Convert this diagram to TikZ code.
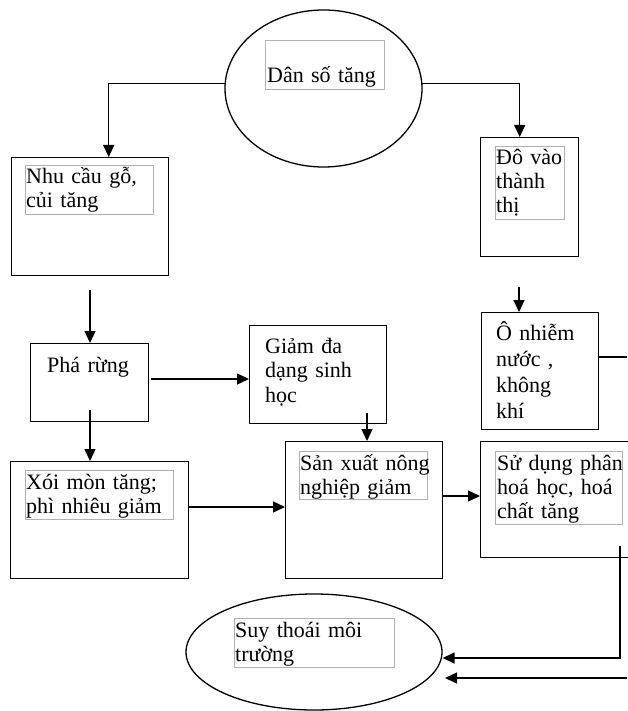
\documentclass[tikz,border=0pt]{standalone}
\usepackage{fontspec}
\setmainfont{Liberation Serif}
\usetikzlibrary{shapes,arrows.meta}

\begin{document}
\begin{tikzpicture}[x=1pt,y=-1pt]
				\tikzstyle{box}=[draw, line width=1.4pt, shape=rectangle, anchor=north west, inner sep=0pt];
				\tikzstyle{oval}=[draw, line width=1.3pt, shape=ellipse, inner sep=0pt];
				\tikzstyle{tbox}=[draw=gray!60, line width=1.3pt, shape=rectangle, anchor=north west, inner sep=0pt];
				\tikzstyle{txt}=[anchor=base west, inner sep=0pt, text width=160pt, align=left, font=\fontsize{22pt}{24pt}\selectfont];
				\tikzstyle{arr}=[line width=1.4pt, -{Triangle[length=12pt,width=11pt]}];
				\tikzstyle{ln}=[line width=1.4pt];
				\useasboundingbox (0,0) rectangle (627,711);
				\node [oval, minimum width=197pt, minimum height=157pt] (dan) at (323.5,88.5) {};
				\node [tbox, minimum width=119pt, minimum height=49pt] (gdan) at (265,40) {};
				\node [txt] (tdan) at (267,83) {Dân số tăng};
				\node [box, minimum width=157pt, minimum height=118pt] (nhu) at (11,157) {};
				\node [tbox, minimum width=128pt, minimum height=49pt] (gnhu) at (25,165) {};
				\node [txt] (tnhu) at (26,184) {Nhu cầu gỗ,\\củi tăng};
				\node [box, minimum width=98pt, minimum height=119pt] (do) at (480,137) {};
				\node [tbox, minimum width=69pt, minimum height=73pt] (gdo) at (495,146) {};
				\node [txt] (tdo) at (496,165) {Đô vào\\thành\\thị};
				\draw[arr] (dan.177) -| ([xshift=18.5pt]nhu.north);
				\draw[arr] (dan.3) -| ([xshift=-10pt]do.north);
				\node [box, minimum width=118pt, minimum height=78pt] (pha) at (30,343) {};
				\node [txt] (tpha) at (47,372) {Phá rừng};
				\node [box, minimum width=137pt, minimum height=98pt] (giam) at (249,325) {};
				\node [txt, font=\fontsize{22pt}{24.5pt}\selectfont] (tgiam) at (265,353) {Giảm đa\\dạng sinh\\học};
				\node [box, minimum width=117pt, minimum height=117pt] (onh) at (481,312) {};
				\node [txt, font=\fontsize{22pt}{26pt}\selectfont] (tonh) at (496,340) {Ô nhiễm\\nước ,\\không\\khí};
				\coordinate (c1) at (90,290);
				\coordinate (c2) at (90,410);
				\coordinate (c3) at (151,379);
				\coordinate (c7) at (519,287);
				\coordinate (c8) at (627,357);
				\draw[arr] (c1) -- (c1 |- pha.north);
				\draw[arr] (c3) -- (c3 -| giam.west);
				\draw[arr] (c7) -- (c7 |- onh.north);
				\draw[ln] (c8 -| onh.east) -- (c8);
				\node [box, minimum width=178pt, minimum height=117pt] (xoi) at (10,461) {};
				\node [tbox, minimum width=148pt, minimum height=49pt] (gxoi) at (25,470) {};
				\node [txt] (txoi) at (26,489) {Xói mòn tăng;\\phì nhiêu giảm};
				\node [box, minimum width=157pt, minimum height=137pt] (sx) at (285,441) {};
				\node [tbox, minimum width=128pt, minimum height=48pt] (gsx) at (299,451) {};
				\node [txt] (tsx) at (300,470) {Sản xuất nông\\nghiệp giảm};
				\node [box, minimum width=170pt, minimum height=116pt] (sd) at (480,441) {};
				\node [tbox, minimum width=127pt, minimum height=73pt] (gsd) at (495,451) {};
				\node [txt] (tsd) at (497,470) {Sử dụng phân\\hoá học, hoá\\chất tăng};
				\coordinate (c4) at (367,413);
				\coordinate (c5) at (188,507);
				\coordinate (c6) at (442,496);
				\draw[arr] (c2) -- (c2 |- xoi.north);
				\draw[arr] (c4) -- (c4 |- sx.north);
				\draw[arr] (c5) -- (c5 -| sx.west);
				\draw[arr] (c6) -- (c6 -| sd.west);
				\node [oval, minimum width=256pt, minimum height=116pt] (suy) at (314,652) {};
				\node [tbox, minimum width=160pt, minimum height=49pt] (gsuy) at (234,618) {};
				\node [txt] (tsuy) at (235,637) {Suy thoái môi\\trường};
				\coordinate (c9) at (620,546);
				\coordinate (c10) at (627,678);
				\coordinate (c11) at (445,678);
				\draw[arr] (c9) |- ([yshift=-6pt]suy.east);
				\draw[arr] (c10) -- (c11);
\end{tikzpicture}
\end{document}
